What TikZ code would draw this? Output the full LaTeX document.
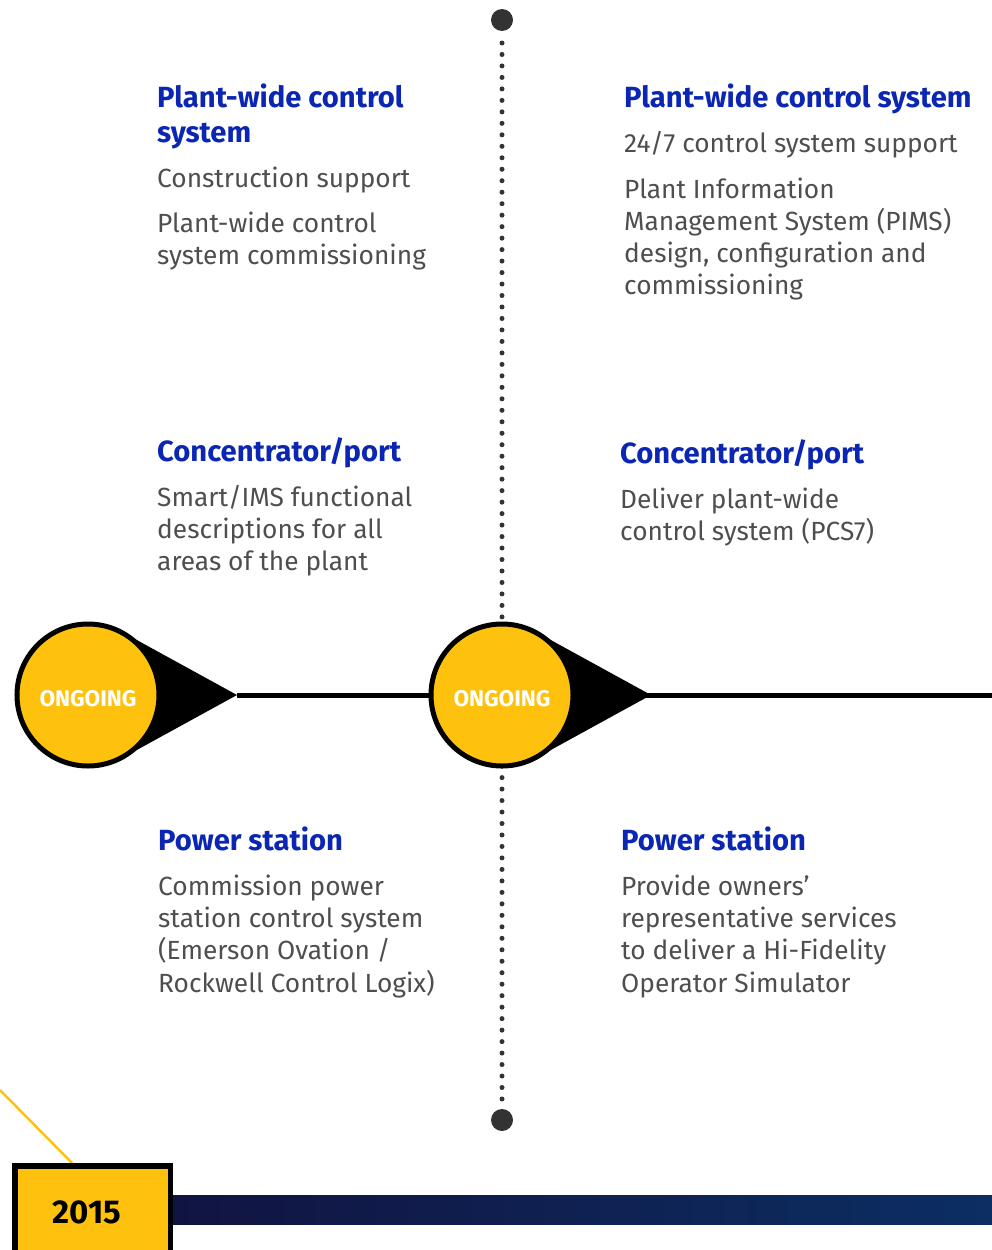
\documentclass[tikz,border=0pt]{standalone}
\usepackage{fontspec}
\setmainfont{Fira Sans}
\definecolor{gold}{RGB}{254,194,14}
\definecolor{titleblue}{RGB}{10,38,178}
\definecolor{bodygray}{RGB}{78,78,78}
\definecolor{dotgray}{RGB}{51,51,51}
\definecolor{barleft}{RGB}{17,20,66}
\definecolor{barright}{RGB}{12,46,98}
\tikzset{
  heading/.style={anchor=base west, inner sep=0pt, text=titleblue,
    font=\fontsize{29.2}{35}\selectfont\bfseries},
  bodyline/.style={anchor=base west, inner sep=0pt, text=bodygray,
    font=\fontsize{26.3}{32}\selectfont},
  milestone/.style={circle, fill=gold, draw=black, line width=5pt,
    minimum size=142pt, inner sep=0pt, text=white,
    font=\fontsize{22.6}{22.6}\selectfont\bfseries},
}
\begin{document}
\begin{tikzpicture}[x=1pt,y=-1pt]
\useasboundingbox (0,0) rectangle (992,1250);

% vertical dotted timeline with end caps
\node[circle, fill=dotgray, minimum size=22pt, inner sep=0pt] (topcap) at (502,20) {};
\node[circle, fill=dotgray, minimum size=22pt, inner sep=0pt] (botcap) at (502,1120) {};
\draw[dotgray, line width=5pt, line cap=round, dash pattern=on 0pt off 11.478pt]
  (502,43) -- (502,1099.6);

% horizontal axis
\coordinate (tipA) at (237,695);
\coordinate (tipB) at (651,695);
\coordinate (axisend) at (992,695);
\draw[line width=5pt] (tipA) -- (axisend);

% pointers (tangent to the circles) and milestone circles
\fill (124,633) -- (tipA) -- (124,757) -- cycle;
\fill (538,633) -- (tipB) -- (538,757) -- cycle;
\node[milestone] (ongA) at (88,695) {\raisebox{-11pt}[0pt][0pt]{ONGOING}};
\node[milestone] (ongB) at (502,695) {\raisebox{-11pt}[0pt][0pt]{ONGOING}};

% left upper column
\node[heading] (h1a) at (157,107) {Plant-wide control};
\node[heading] (h1b) at (157,142) {system};
\node[bodyline] (t1a) at (157,187) {Construction support};
\node[bodyline] (t1b) at (157,232) {Plant-wide control};
\node[bodyline] (t1c) at (157,264) {system commissioning};

\node[heading] (h2) at (157,461) {Concentrator/port};
\foreach \txt [count=\i from 0] in {{Smart/IMS functional},{descriptions for all},{areas of the plant}}
  \node[bodyline] (t2-\i) at (157,506+32*\i) {\txt};

% right upper column
\node[heading] (h3) at (624,107) {Plant-wide control system};
\node[bodyline] (t3a) at (624,152) {24/7 control system support};
\foreach \txt [count=\i from 0] in {{Plant Information},{Management System (PIMS)},{design, configuration and},{commissioning}}
  \node[bodyline] (t3-\i) at (624,198+32*\i) {\txt};

\node[heading] (h4) at (620,463) {Concentrator/port};
\foreach \txt [count=\i from 0] in {{Deliver plant-wide},{control system (PCS7)}}
  \node[bodyline] (t4-\i) at (620,508+32*\i) {\txt};

% lower columns
\node[heading] (h5) at (158,850) {Power station};
\foreach \txt [count=\i from 0] in {{Commission power},{station control system},{(Emerson Ovation /},{Rockwell Control Logix)}}
  \node[bodyline] (t5-\i) at (158,895+32.4*\i) {\txt};

\node[heading] (h6) at (621,850) {Power station};
\foreach \txt [count=\i from 0] in {{Provide owners’},{representative services},{to deliver a Hi-Fidelity},{Operator Simulator}}
  \node[bodyline] (t6-\i) at (621,895+32.4*\i) {\txt};

% year marker and bottom bar
\shade[left color=barleft, right color=barright] (173,1195) rectangle (992,1224);
\coordinate (leadstart) at (0,1090);
\draw[gold, line width=2.5pt] (leadstart) -- (72,1163);
\draw[fill=gold, line width=5.5pt] (14.75,1165.75) rectangle (170.25,1262);
\node[font=\fontsize{33}{33}\selectfont\bfseries, inner sep=0pt] (year) at (87,1212.5) {2015};
\end{tikzpicture}
\end{document}
